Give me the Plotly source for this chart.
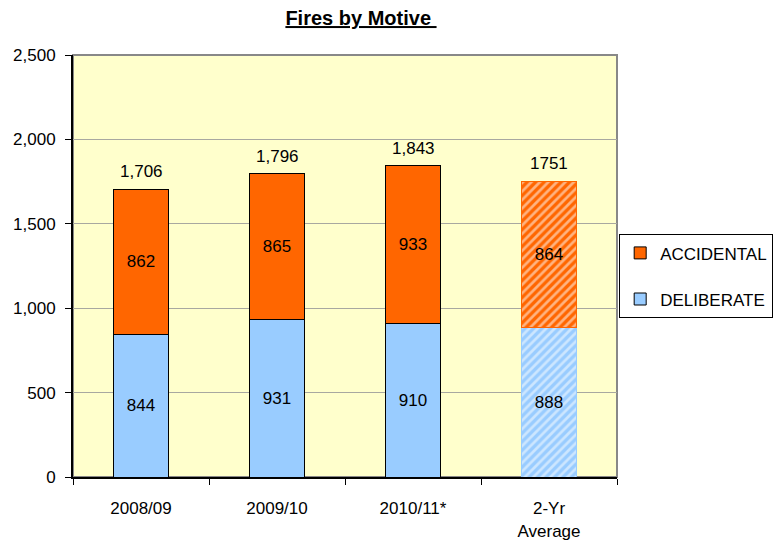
import plotly.graph_objects as go

categories = ["2008/09", "2009/10", "2010/11*", "2-Yr<br>Average"]
deliberate = [844, 931, 910, 888]
accidental = [862, 865, 933, 864]
total_labels = ["1,706", "1,796", "1,843", "1751"]

ORANGE = "#FF6600"
BLUE = "#99CCFF"
FONT = "Liberation Sans, Arial, sans-serif"
FS = 17

n_actual = 3
fig = go.Figure()

common = dict(width=0.41, textposition="inside", insidetextanchor="middle",
              textangle=0, constraintext="none", cliponaxis=False,
              textfont=dict(family=FONT, size=FS, color="black"))

fig.add_trace(go.Bar(name="DELIBERATE", x=categories[:n_actual], y=deliberate[:n_actual],
                     text=deliberate[:n_actual], legendgroup="D", legendrank=2,
                     marker=dict(color=BLUE, line=dict(color="black", width=1)), **common))
fig.add_trace(go.Bar(name="ACCIDENTAL", x=categories[:n_actual], y=accidental[:n_actual],
                     text=accidental[:n_actual], legendgroup="A", legendrank=1,
                     marker=dict(color=ORANGE, line=dict(color="black", width=1)), **common))
fig.add_trace(go.Bar(name="DELIBERATE", x=categories[n_actual:], y=deliberate[n_actual:],
                     text=deliberate[n_actual:], legendgroup="D", showlegend=False,
                     marker=dict(color=BLUE, line=dict(color=BLUE, width=1),
                                 pattern=dict(shape="/", fgcolor="white", bgcolor=BLUE,
                                              fillmode="overlay", size=6, solidity=0.45)),
                     **common))
fig.add_trace(go.Bar(name="ACCIDENTAL", x=categories[n_actual:], y=accidental[n_actual:],
                     text=accidental[n_actual:], legendgroup="A", showlegend=False,
                     marker=dict(color=ORANGE, line=dict(color=ORANGE, width=1),
                                 pattern=dict(shape="/", fgcolor="white", bgcolor=ORANGE,
                                              fillmode="overlay", size=6, solidity=0.45)),
                     **common))

for cat, d, a, lab in zip(categories, deliberate, accidental, total_labels):
    fig.add_annotation(x=cat, y=d + a, text=lab, showarrow=False, yanchor="bottom",
                       yshift=6, font=dict(family=FONT, size=FS, color="black"))

fig.add_shape(type="rect", xref="paper", yref="paper", x0=0, x1=1, y0=0, y1=1,
              line=dict(color="#888888", width=2), layer="below")

fig.update_layout(
    width=773, height=547,
    margin=dict(l=73, r=156, t=55, b=70, autoexpand=False),
    paper_bgcolor="white", plot_bgcolor="#FFFFCC",
    barmode="stack", bargap=0.59,
    title=dict(text="<b><u>Fires by Motive </u></b>", x=0.467, xanchor="center",
               y=0.967, yanchor="middle",
               font=dict(family=FONT, size=20, color="black")),
    font=dict(family=FONT, size=FS, color="black"),
    showlegend=True,
    legend=dict(x=1.004, xanchor="left", y=0.575, yanchor="top",
                bgcolor="white", bordercolor="black", borderwidth=1,
                traceorder="grouped", tracegroupgap=21,
                font=dict(family=FONT, size=FS, color="black")),
    xaxis=dict(type="category", showline=True, linecolor="black", linewidth=2,
               ticks="outside", ticklen=6, tickcolor="black", tickson="boundaries",
               showgrid=False, ticklabelstandoff=15,
               tickfont=dict(family=FONT, size=FS, color="black")),
    yaxis=dict(range=[0, 2500], dtick=500, tickformat=",", showline=True,
               linecolor="black", linewidth=2, ticks="outside", ticklen=6,
               tickcolor="black", showgrid=True, gridcolor="#A8A8A0", gridwidth=1,
               zeroline=False, ticklabelstandoff=6,
               tickfont=dict(family=FONT, size=FS, color="black")),
)

fig.write_html("out.html", config={"displayModeBar": False},
               post_script="document.body.style.margin='0';document.body.style.overflow='hidden';")
